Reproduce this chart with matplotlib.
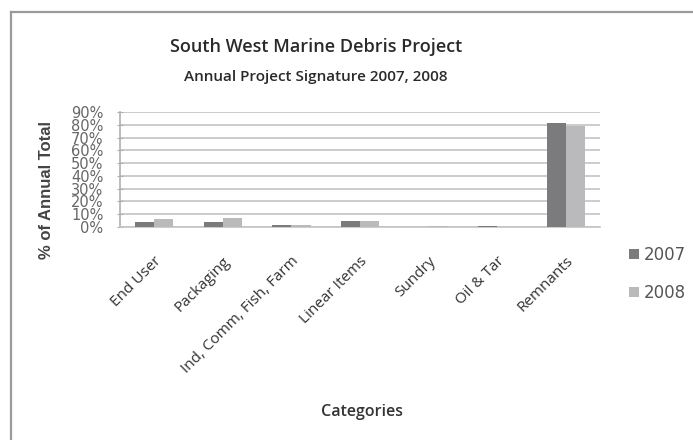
import numpy as np
import matplotlib.pyplot as plt
from matplotlib.lines import Line2D

categories = ["End User", "Packaging", "Ind, Comm, Fish, Farm", "Linear Items",
              "Sundry", "Oil & Tar", "Remnants"]
pct_2007 = [3.9, 4.0, 1.6, 4.7, 0.0, 1.0, 81.3]
pct_2008 = [6.0, 6.8, 1.3, 4.5, 0.8, 0.0, 78.7]
yticks = np.arange(0, 91, 10)

W, H = 693, 440
fig = plt.figure(figsize=(W / 100, H / 100), dpi=100)
fig.patch.set_facecolor("white")

# outer chart frame (goes off right/bottom edge)
fig.add_artist(Line2D([11 / W, 11 / W], [0, 1 - 12 / H], transform=fig.transFigure,
                      color="#9a9a9a", lw=1.6))
fig.add_artist(Line2D([11 / W, 1], [1 - 12 / H, 1 - 12 / H], transform=fig.transFigure,
                      color="#9a9a9a", lw=1.6))

ax = fig.add_axes([120 / W, 1 - 227 / H, 480 / W, 115 / H])

x = np.arange(len(categories))
w = 0.28
ax.bar(x - w / 2, pct_2007, w, color="#7b7b7d", label="2007", zorder=3)
ax.bar(x + w / 2, pct_2008, w, color="#bababc", label="2008", zorder=3)

ax.set_xlim(-0.5, len(categories) - 0.5)
ax.set_ylim(0, 90)
ax.set_yticks(yticks)
ax.set_yticklabels([f"{v}%" for v in yticks], fontsize=10.5, color="#666666")
ax.yaxis.grid(True, color="#c4c4c4", lw=1.2, zorder=0)
ax.tick_params(axis="y", length=4, direction="inout", color="#b0b0b0", pad=10)
ax.tick_params(axis="x", length=0, pad=19)
ax.set_xticks(x)
ax.set_xticklabels(categories, rotation=45, ha="right", rotation_mode="anchor",
                   fontsize=11, family="Open Sans", color="#333333")

for s in ["top", "right"]:
    ax.spines[s].set_visible(False)
ax.spines["left"].set_color("#b0b0b0")
ax.spines["bottom"].set_color("#c4c4c4")
ax.spines["left"].set_linewidth(1.2)
ax.spines["bottom"].set_linewidth(1.2)

fig.text(316 / W, 1 - 47 / H, "South West Marine Debris Project", ha="center", va="center",
         fontsize=13, family="Open Sans", weight="semibold", color="#2a2a2a")
fig.text(316 / W, 1 - 77 / H, "Annual Project Signature 2007, 2008", ha="center", va="center",
         fontsize=11, family="Open Sans", weight="semibold", color="#2a2a2a")
fig.text(47 / W, 1 - 190 / H, "% of Annual Total", rotation=90, ha="center", va="center",
         fontsize=12, family="Liberation Sans", weight="bold", color="#444444")
fig.text(362 / W, 1 - 412 / H, "Categories", ha="center", va="center",
         fontsize=11.5, family="Open Sans", weight="semibold", color="#333333")

ax.legend(loc="upper left", bbox_to_anchor=(614 / W, 1 - 231 / H),
          bbox_transform=fig.transFigure, frameon=False, fontsize=12,
          handlelength=0.6, handleheight=0.6, handletextpad=0.3, labelspacing=1.2,
          labelcolor="#555555")

fig.savefig("out.png", dpi=100)
